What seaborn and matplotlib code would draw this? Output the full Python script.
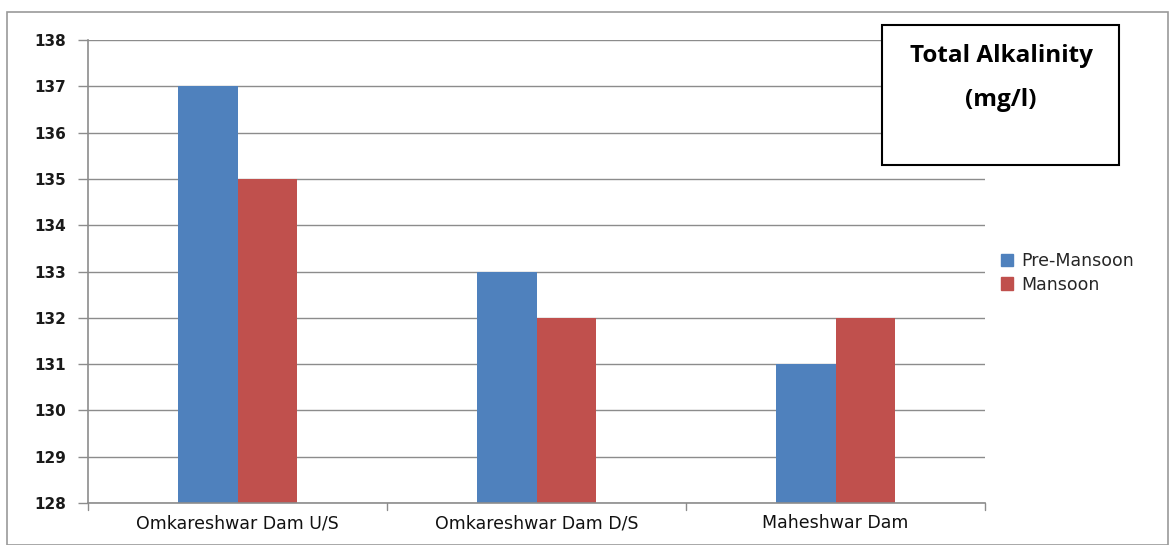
import matplotlib
matplotlib.use("Agg")
import matplotlib.pyplot as plt
import matplotlib.patches as mpatches
import seaborn as sns
import pandas as pd

sites = ["Omkareshwar Dam U/S", "Omkareshwar Dam D/S", "Maheshwar Dam"]
pre_monsoon = [137, 133, 131]
monsoon = [135, 132, 132]
season_labels = ["Pre-Mansoon", "Mansoon"]
season_colors = ["#4F81BD", "#C0504D"]
y_ticks = list(range(128, 139))

df = pd.DataFrame({
    "Site": sites * 2,
    "Season": [season_labels[0]] * 3 + [season_labels[1]] * 3,
    "Value": pre_monsoon + monsoon,
})

sns.set_style("white")
plt.rcParams["font.family"] = ["DejaVu Sans"]

W, H = 1172, 545
fig = plt.figure(figsize=(W / 100, H / 100), dpi=100)
ax = fig.add_axes([88 / W, 1 - 503 / H, (985 - 88) / W, (503 - 40) / H])

sns.barplot(data=df, x="Site", y="Value", hue="Season",
            palette=season_colors, width=0.395, ax=ax,
            saturation=1, legend=False, edgecolor="none")

# bars must start from the axis floor, not from zero
for p in ax.patches:
    h = p.get_height()
    p.set_y(128)
    p.set_height(h - 128)

ax.set_ylim(128, 138)
ax.set_xlim(-0.5, 2.5)
ax.set_yticks(y_ticks)
ax.set_yticklabels([str(t) for t in y_ticks], fontsize=11, fontweight="bold",
                   color="#1a1a1a")
ax.yaxis.grid(True, color="#8c8c8c", linewidth=1)
ax.set_axisbelow(True)
ax.set_xlabel("")
ax.set_ylabel("")

# category ticks sit on the boundaries between groups
ax.set_xticks([0, 1, 2])
ax.set_xticklabels(sites, fontsize=12.5, color="#111111")
ax.tick_params(axis="x", length=0, pad=8)
for b in [-0.5, 0.5, 1.5, 2.5]:
    ax.plot([b, b], [0, -0.016], transform=ax.get_xaxis_transform(),
            color="#8c8c8c", lw=1, clip_on=False)
ax.tick_params(axis="y", length=7, width=1, color="#8c8c8c", left=True, pad=9)

for s in ["top", "right"]:
    ax.spines[s].set_visible(False)
for s in ["left", "bottom"]:
    ax.spines[s].set_color("#8c8c8c")
    ax.spines[s].set_linewidth(1.2)

# outer chart border
fig.patches.append(mpatches.Rectangle((7 / W, 0), (1168 - 7) / W, 1 - 12 / H,
                                      transform=fig.transFigure, fill=False,
                                      edgecolor="#9a9a9a", linewidth=1.2))

# title box
fig.patches.append(mpatches.Rectangle((882 / W, 1 - 165 / H), (1119 - 882) / W,
                                      (165 - 25) / H, transform=fig.transFigure,
                                      facecolor="white", edgecolor="black",
                                      linewidth=1.5, zorder=5))
fig.text(1001 / W, 1 - 56 / H, "Total Alkalinity", ha="center", va="center",
         fontsize=17.5, fontweight="bold", family="Open Sans", color="black", zorder=6)
fig.text(1001 / W, 1 - 100 / H, "(mg/l)", ha="center", va="center",
         fontsize=17.5, fontweight="bold", family="Open Sans", color="black", zorder=6)

handles = [mpatches.Patch(color=c, label=l) for c, l in zip(season_colors, season_labels)]
fig.legend(handles=handles, loc="center left", bbox_to_anchor=(985 / W, 1 - 273 / H),
           frameon=False, fontsize=12.5, handlelength=0.7, handleheight=0.7,
           handletextpad=0.5, labelspacing=0.3)

fig.savefig("out.png", dpi=100)
